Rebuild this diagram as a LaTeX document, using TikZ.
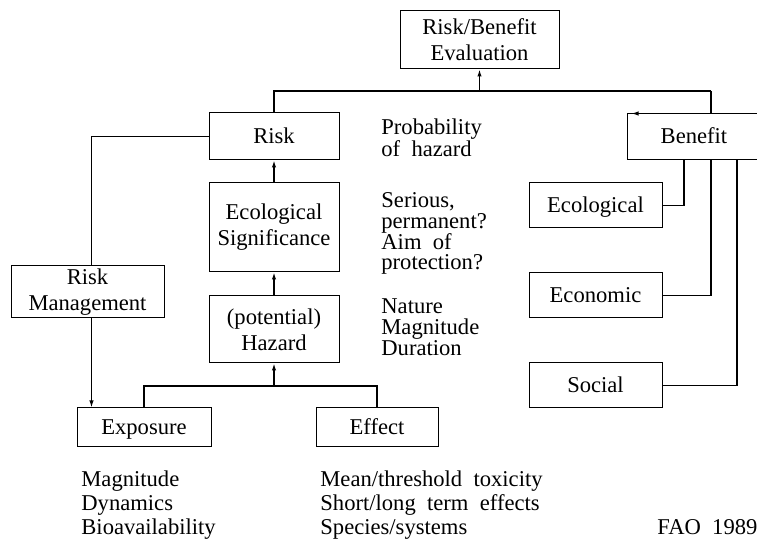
\documentclass[tikz,border=0pt]{standalone}
\usepackage{fontspec}
\setmainfont{Liberation Serif}
\usetikzlibrary{arrows.meta,positioning}

\begin{document}
\begin{tikzpicture}[x=0.5pt,y=-0.5pt,>={Latex[length=3.5pt,width=2.2pt]},
  font=\fontsize{11.3pt}{13pt}\selectfont,
  blk/.style={draw,line width=0.5pt,align=center,inner sep=0pt},
  one/.style={text height=8.5pt,text depth=1.5pt},
  conn/.style={line width=0.6pt},
  lbl/.style={anchor=base west,inner sep=0pt}]
  \useasboundingbox (0,0) rectangle (757,540);
  \clip (0,0) rectangle (757,540);

  % boxes
  \node[blk,minimum width=79.5pt,minimum height=29pt] (eval) at (479.5,40) {Risk/Benefit\\Evaluation};
  \node[blk,one,minimum width=65pt,minimum height=23.5pt] (risk) at (274,136.5) {Risk};
  \node[blk,one,minimum width=67pt,minimum height=23pt] (benefit) at (694,137) {Benefit};
  \node[blk,minimum width=65pt,minimum height=44.5pt] (ecosig) at (274,227.5) {Ecological\\Significance};
  \node[blk,minimum width=65pt,minimum height=33.5pt] (hazard) at (274,329.5) {(potential)\\Hazard};
  \node[blk,minimum width=76.5pt,minimum height=26pt] (riskman) at (87.5,292) {Risk\\Management};
  \node[blk,one,minimum width=67pt,minimum height=19.5pt] (exposure) at (144,427.5) {Exposure};
  \node[blk,one,minimum width=61pt,minimum height=19.5pt] (effect) at (377,427.5) {Effect};
  \node[blk,one,minimum width=66.5pt,minimum height=22.5pt] (ecol) at (595.5,205.5) {Ecological};
  \node[blk,one,minimum width=66.5pt,minimum height=22.5pt] (econ) at (595.5,295.5) {Economic};
  \node[blk,one,minimum width=66.5pt,minimum height=22.5pt] (social) at (595.5,385.5) {Social};

  % connectors
  \coordinate (busL) at (274,91);
  \coordinate (busR) at (711,91);
  \coordinate (lowbus) at (274,386);
  \draw[conn] (risk.north) -- (busL) -- (busR);
  \draw[conn,->] (eval.south |- busL) -- (eval.south);
  \draw[conn,->] (busR) |- ([xshift=2.5pt]benefit.north west);
  \draw[conn,->] (ecosig.north) -- (risk.south);
  \draw[conn,->] (hazard.north) -- (ecosig.south);
  \draw[conn] (risk.west) -| ([xshift=2pt]riskman.north);
  \draw[conn,->] ([xshift=2pt]riskman.south) -- ([xshift=2pt]riskman.south |- exposure.north);
  \draw[conn] (exposure.north) |- (lowbus) -| (effect.north);
  \draw[conn,->] (lowbus) -- (hazard.south);
  \draw[conn] (ecol.east) -| ([xshift=-5pt]benefit.south);
  \draw[conn] (econ.east) -| ([xshift=8.5pt]benefit.south);
  \draw[conn] (social.east) -| ([xshift=21.5pt]benefit.south);

  % notes
  \foreach \yy/\txt in {135/Probability, 157/of\ \ hazard,
      208/{Serious,}, 229/permanent?, 250/Aim\ \ of, 270/protection?,
      314/Nature, 335/Magnitude, 356/Duration}
    \node[lbl] at (381,\yy) {\txt};
  \foreach \yy/\txt in {487/Magnitude, 511/Dynamics, 535/Bioavailability}
    \node[lbl] at (81,\yy) {\txt};
  \foreach \yy/\txt in {487/{Mean/threshold\ \ toxicity}, 511/{Short/long\ \ term\ \ effects}, 535/{Species/systems}}
    \node[lbl] at (320,\yy) {\txt};
  \node[lbl] (fao) at (657,535) {FAO\ \ 1989};
\end{tikzpicture}
\end{document}
